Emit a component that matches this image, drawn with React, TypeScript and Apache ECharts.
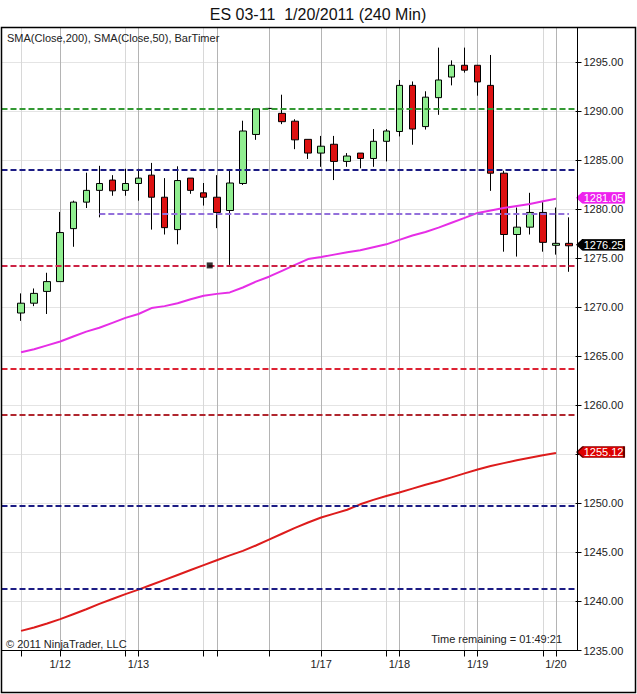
import React, { useEffect, useRef } from 'react';
import * as echarts from 'echarts';

const FONT = 'Arial, "Liberation Sans", Helvetica, sans-serif';

const titleText = 'ES 03-11  1/20/2011 (240 Min)';
const indicatorText = 'SMA(Close,200), SMA(Close,50), BarTimer';
const copyrightText = '© 2011 NinjaTrader, LLC';
const timerText = 'Time remaining = 01:49:21';

// 43 bars of 240 minutes
const opens = [1269.4, 1270.4, 1271.6, 1272.6, 1278.0, 1280.7, 1281.9, 1282.95, 1281.9, 1282.6, 1283.45, 1281.2, 1277.9, 1283.15, 1281.65, 1281.2, 1279.85, 1282.6, 1287.6, 1290.25, 1289.75, 1288.95, 1287.1, 1285.7, 1286.6, 1284.85, 1285.7, 1285.15, 1286.9, 1287.9, 1292.6, 1288.4, 1291.35, 1293.45, 1294.65, 1294.65, 1292.6, 1283.65, 1277.4, 1278.15, 1279.65, 1276.3, 1276.5];
const highs = [1271.4, 1271.9, 1273.5, 1279.7, 1280.85, 1283.7, 1284.4, 1283.45, 1284.1, 1284.1, 1284.7, 1283.15, 1284.35, 1283.15, 1282.65, 1283.45, 1283.9, 1289.0, 1290.2, 1290.25, 1291.65, 1289.15, 1287.1, 1287.45, 1287.45, 1285.7, 1285.7, 1288.15, 1288.15, 1293.15, 1293.0, 1292.0, 1296.45, 1295.15, 1296.45, 1294.65, 1295.7, 1283.9, 1280.15, 1281.65, 1280.7, 1280.15, 1279.15];
const lows = [1268.6, 1270.1, 1269.3, 1272.6, 1276.15, 1280.1, 1279.15, 1281.35, 1281.35, 1280.85, 1277.9, 1277.4, 1276.4, 1281.55, 1280.35, 1278.05, 1274.3, 1282.45, 1287.05, 1290.25, 1288.65, 1286.1, 1285.1, 1284.3, 1282.95, 1284.3, 1284.15, 1284.3, 1284.85, 1287.4, 1286.55, 1288.1, 1289.6, 1292.6, 1293.9, 1291.55, 1281.85, 1275.65, 1275.15, 1277.4, 1275.65, 1275.35, 1273.6];
const closes = [1270.4, 1271.4, 1272.6, 1277.6, 1280.7, 1281.9, 1282.6, 1281.85, 1282.6, 1283.15, 1281.2, 1278.1, 1282.9, 1281.9, 1281.2, 1279.65, 1282.65, 1287.95, 1290.2, 1290.25, 1288.9, 1287.05, 1285.7, 1286.4, 1284.85, 1285.4, 1285.15, 1286.9, 1287.95, 1292.6, 1288.15, 1291.4, 1293.15, 1294.65, 1294.15, 1292.95, 1283.65, 1277.4, 1278.15, 1279.65, 1276.6, 1276.5, 1276.25];

// SMA values for bars 0..41
const sma50 = [1265.4, 1265.7, 1266.1, 1266.5, 1267.0, 1267.5, 1267.9, 1268.4, 1268.9, 1269.3, 1269.9, 1270.1, 1270.4, 1270.8, 1271.15, 1271.35, 1271.5, 1272.0, 1272.6, 1273.1, 1273.7, 1274.3, 1274.9, 1275.1, 1275.35, 1275.6, 1275.8, 1276.1, 1276.4, 1276.85, 1277.3, 1277.65, 1278.1, 1278.6, 1279.1, 1279.6, 1279.85, 1280.1, 1280.3, 1280.5, 1280.8, 1281.05];
const sma200 = [1237.0, 1237.35, 1237.75, 1238.2, 1238.7, 1239.2, 1239.75, 1240.25, 1240.75, 1241.2, 1241.7, 1242.2, 1242.7, 1243.2, 1243.7, 1244.2, 1244.7, 1245.15, 1245.7, 1246.3, 1246.9, 1247.5, 1248.05, 1248.55, 1248.95, 1249.35, 1249.9, 1250.35, 1250.75, 1251.1, 1251.5, 1251.9, 1252.25, 1252.65, 1253.05, 1253.45, 1253.8, 1254.1, 1254.4, 1254.65, 1254.9, 1255.12];

// date labels by bar index
const dayLabelBars = [3, 9, 23, 29, 35, 41];
const dayLabels = ['1/12', '1/13', '1/17', '1/18', '1/19', '1/20'];
const sessionLineBars = [3, 9, 15, 19, 23, 29, 35, 41];
const minorLineBars = [0, 8, 14, 28, 34, 40];

// horizontal levels drawn on the chart
const levelValues = [1290.25, 1284.0, 1274.25, 1263.75, 1259.0, 1249.75, 1241.25];
const partialLevel = 1279.5;
const partialFromBar = 6;
const partialToBar = 42;
const squareBar = 14;
const squareValue = 1274.25;

const yMin = 1235;
const yMax = 1298.5;
const yStep = 5;
// axis label hidden behind the SMA(200) price tag in the reference
const hiddenYLabels = [1255];

export default function App() {
  const ref = useRef<HTMLDivElement>(null);
  useEffect(() => {
    document.body.style.margin = '0';
    const chart = echarts.init(ref.current as HTMLDivElement, null, { renderer: 'svg', width: 637, height: 694 });

    const categories = [''].concat(opens.map((_, i) => String(i + 1)));
    const pad = ['-', '-', '-', '-'];
    const candleData: any[] = [pad].concat(opens.map((o, i) => [o, closes[i], lows[i], highs[i]]) as any);
    const sma50Data: any[] = ['-', ...sma50, '-'];
    const sma200Data: any[] = ['-', ...sma200, '-'];
    const tickSet = new Set([...sessionLineBars, ...minorLineBars]);
    const labelMap: Record<number, string> = {};
    dayLabelBars.forEach((b, i) => (labelMap[b] = dayLabels[i]));

    const levelColors = ['#339933', '#1c1c84', '#cc2244', '#dd2233', '#b0262e', '#1c1c84', '#1c1c84'];
    const lastCat = sma50.length; // category index of bar 41
    const tagOffset = 44.6;

    const priceTag = (value: number, color: string, border: string) => ({
      coord: [lastCat, value],
      value,
      symbol: 'path://M0,5.5L6,0L47,0L47,11L6,11Z',
      symbolSize: [47, 11],
      symbolOffset: [tagOffset, -1],
      itemStyle: { color, borderColor: border, borderWidth: 1 },
      label: {
        show: true,
        position: 'inside',
        offset: [3, 0],
        color: '#fff',
        fontSize: 11,
        lineHeight: 11,
        fontFamily: FONT,
        formatter: (p: any) => Number(p.value).toFixed(2),
      },
    });

    const option: any = {
      animation: false,
      backgroundColor: '#fff',
      grid: { left: 1.5, right: 61.5, top: 27.5, bottom: 43.5, containLabel: false, outerBoundsMode: 'none' },
      xAxis: {
        type: 'category',
        data: categories,
        boundaryGap: true,
        axisLine: { show: false },
        axisTick: {
          show: true,
          alignWithLabel: true,
          length: 6,
          interval: (i: number) => tickSet.has(i - 1),
          lineStyle: { color: '#000', width: 1 },
        },
        axisLabel: {
          interval: (i: number) => labelMap[i - 1] !== undefined,
          formatter: (_v: string, i: number) => labelMap[i - 1] ?? '',
          fontSize: 11,
          fontFamily: FONT,
          color: '#222',
          margin: 8,
        },
        splitLine: { show: false },
      },
      yAxis: {
        type: 'value',
        position: 'right',
        min: yMin,
        max: yMax,
        interval: yStep,
        axisLine: { show: false },
        axisTick: { show: true, length: 6, lineStyle: { color: '#000' } },
        axisLabel: {
          formatter: (v: number) => (hiddenYLabels.includes(v) ? '' : v.toFixed(2)),
          fontSize: 11,
          lineHeight: 11,
          fontFamily: FONT,
          color: '#222',
          margin: 8,
          showMaxLabel: false,
        },
        splitLine: { show: true, lineStyle: { color: '#e4e4e4', width: 1 } },
      },
      series: [
        {
          name: 'grid',
          type: 'line',
          data: [],
          silent: true,
          z: 1,
          markLine: {
            silent: true,
            z: 1,
            symbol: ['none', 'none'],
            label: { show: false },
            data: [
              ...sessionLineBars.map((b) => ({ xAxis: b + 1, lineStyle: { color: '#b4b4b4', width: 1, type: 'solid' } })),
              ...minorLineBars.map((b) => ({ xAxis: b + 1, lineStyle: { color: '#d8d8d8', width: 1, type: 'solid' } })),
            ],
          },
        },
        {
          name: 'ES 03-11',
          type: 'candlestick',
          data: candleData,
          barWidth: 7,
          z: 2,
          itemStyle: {
            color: '#90ee90',
            color0: '#dd1111',
            borderColor: '#000',
            borderColor0: '#000',
            borderColorDoji: '#000',
            borderWidth: 1,
          },
          markPoint: {
            silent: true,
            data: [priceTag(closes[closes.length - 1], '#000', '#000')],
          },
        },
        {
          name: 'levels',
          type: 'line',
          data: [],
          silent: true,
          z: 3,
          markLine: {
            silent: true,
            symbol: ['none', 'none'],
            label: { show: false },
            data: [
              ...levelValues.map((v, i) => ({ yAxis: v, lineStyle: { color: levelColors[i], width: 2, type: [6, 3] } })),
              [
                { coord: [partialFromBar + 1, partialLevel], lineStyle: { color: '#9370db', width: 2, type: [6, 3] } },
                { coord: [partialToBar + 1, partialLevel] },
              ],
            ],
          },
        },
        {
          name: 'SMA(Close,200)',
          type: 'line',
          data: sma200Data,
          symbol: 'none',
          z: 4,
          lineStyle: { color: '#dd1c1c', width: 2 },
          markPoint: { silent: true, data: [priceTag(sma200[sma200.length - 1], '#dd0000', '#600')] },
        },
        {
          name: 'SMA(Close,50)',
          type: 'line',
          data: sma50Data,
          symbol: 'none',
          z: 4,
          lineStyle: { color: '#e62ee6', width: 2 },
          markPoint: { silent: true, data: [priceTag(sma50[sma50.length - 1], '#ee22ee', '#ee22ee')] },
        },
        {
          name: 'marker',
          type: 'scatter',
          data: [[squareBar + 1, squareValue]],
          symbol: 'rect',
          symbolSize: 6,
          symbolOffset: [6, 0],
          itemStyle: { color: '#000' },
          z: 5,
          silent: true,
        },
      ],
      graphic: [
        { type: 'rect', z: 100, silent: true, shape: { x: 1.5, y: 27.5, width: 634, height: 665 }, style: { fill: 'none', stroke: '#000', lineWidth: 1.5 } },
        { type: 'line', z: 100, silent: true, shape: { x1: 577.5, y1: 27.5, x2: 577.5, y2: 650.5 }, style: { stroke: '#000', lineWidth: 1 } },
        { type: 'line', z: 100, silent: true, shape: { x1: 1.5, y1: 650.5, x2: 577.5, y2: 650.5 }, style: { stroke: '#000', lineWidth: 1 } },
        { type: 'text', z: 100, silent: true, x: 318, y: 14, style: { text: titleText, fontSize: 16, fontFamily: FONT, fill: '#111', align: 'center', verticalAlign: 'middle' } },
        { type: 'text', z: 100, silent: true, x: 7, y: 38, style: { text: indicatorText, fontSize: 11, fontFamily: FONT, fill: '#222', align: 'left', verticalAlign: 'middle' } },
        { type: 'text', z: 100, silent: true, x: 6, y: 644, style: { text: copyrightText, fontSize: 11, fontFamily: FONT, fill: '#222', align: 'left', verticalAlign: 'middle' } },
        { type: 'text', z: 100, silent: true, x: 562, y: 639, style: { text: timerText, fontSize: 11, fontFamily: FONT, fill: '#222', align: 'right', verticalAlign: 'middle' } },
      ],
    };

    chart.setOption(option);
    return () => chart.dispose();
  }, []);

  return <div ref={ref} style={{ position: 'absolute', left: 0, top: 0, width: 637, height: 694, background: '#fff' }} />;
}
